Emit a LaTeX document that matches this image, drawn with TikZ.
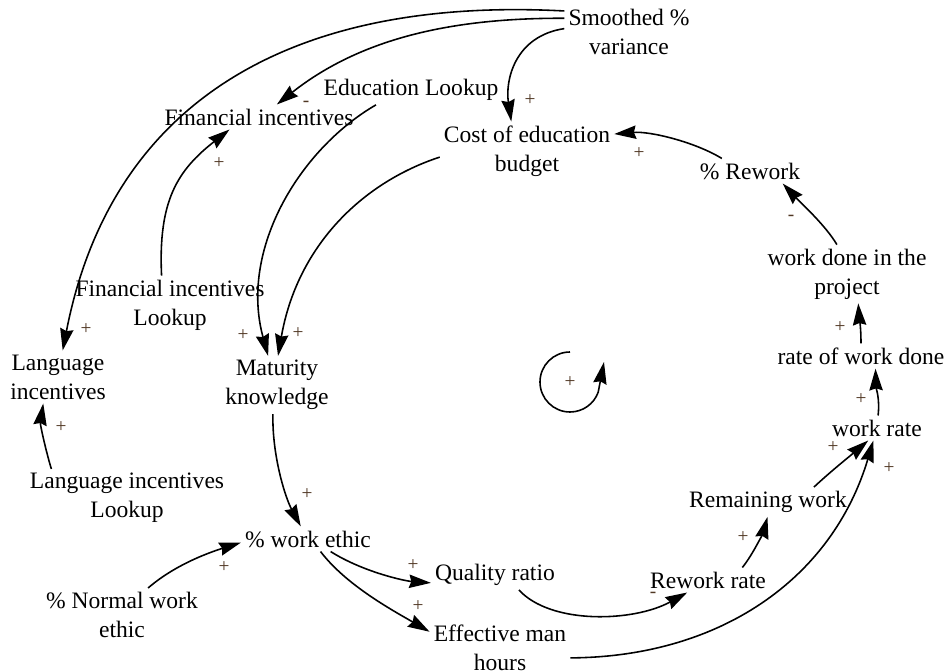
\documentclass[tikz,border=0pt]{standalone}
\usepackage{fontspec}
\setmainfont{Liberation Serif}
\usetikzlibrary{arrows.meta}
\definecolor{polcol}{RGB}{80,55,35}
\begin{document}
\begin{tikzpicture}[x=0.1mm,y=-0.1mm,
  var/.style={align=center,inner sep=1pt,font=\fontsize{6.7}{8.25}\selectfont},
  pol/.style={inner sep=0pt,text=polcol,font=\fontsize{5.5}{6}\selectfont},
  link/.style={line width=0.45pt,-{Stealth[length=6.2pt,width=3.8pt,inset=0.6pt]}}]
\useasboundingbox (0,0) rectangle (951,672);

% variables
\node[var] (smooth) at (629,32) {Smoothed \%\\variance};
\node[var] (edu) at (411,90) {Education Lookup};
\node[var] (fin) at (259,117) {Financial incentives};
\node[var] (cost) at (527,151) {Cost of education\\budget};
\node[var] (rework) at (750,171) {\% Rework};
\node[var] (wdone) at (847,274) {work done in the\\project};
\node[var] (rwd) at (861,356) {rate of work done};
\node[var] (wrate) at (877,428) {work rate};
\node[var] (remain) at (768,502) {Remaining work};
\node[var] (rrate) at (708,580) {Rework rate};
\node[var] (quality) at (495,575) {Quality ratio};
\node[var] (eff) at (500,648) {Effective man\\hours};
\node[var] (ethic) at (308,539) {\% work ethic};
\node[var] (normal) at (122,615) {\% Normal work\\ethic};
\node[var] (langlook) at (127,498) {Language incentives\\Lookup};
\node[var] (lang) at (58,377) {Language\\incentives};
\node[var] (mat) at (277,385) {Maturity\\knowledge};
\node[var] (finlook) at (170,305) {Financial incentives\\Lookup};

% links
\draw[link] (smooth.162) .. controls (284,-4) and (110,107) .. (lang.80);
\draw[link] (smooth.168) .. controls (463,18) and (366,34) .. (fin.35);
\draw[link] (smooth.177) .. controls (515,36) and (505,80) .. (cost.118);
\draw[link] (edu.203) .. controls (300,149) and (239,249) .. (mat.107);
\draw[link] (cost.184) .. controls (361,183) and (297,247) .. (mat.88);
\draw[link] (finlook.106) .. controls (158,200) and (178,170) .. (fin.203);
\draw[link] (langlook.159) .. controls (47,455) and (40,425) .. (lang.241);
\draw[link] (mat.262) .. controls (272,455) and (285,497) .. (ethic.120);
\draw[link] (normal.46) .. controls (177,563) and (214,551) .. (ethic.183);
\draw[link] (ethic.331) .. controls (363,572) and (405,581) .. (quality.187);
\draw[link] (ethic.315) .. controls (346,585) and (392,610) .. (eff.167);
\draw[link] (quality.328) .. controls (551,625) and (634,622) .. (rrate.211);
\draw[link] (rrate.20) .. controls (754,553) and (764,530) .. (remain.268);
\draw[link] (remain.18) .. controls (830,472) and (850,456) .. (wrate.235);
\draw[link] (eff.352) .. controls (720,657) and (832,579) .. (wrate.254);
\draw[link] (wrate.85) .. controls (880,398) and (876,388) .. (rwd.319);
\draw[link] (rwd.90) .. controls (861,325) and (859,315) .. (wdone.291);
\draw[link] (wdone.109) .. controls (826,226) and (802,204) .. (rework.339);
\draw[link] (rework.156) .. controls (695,142) and (650,131) .. (cost.11);

% polarities
\foreach \x/\y/\s [count=\i] in {86/329/+, 306/104/-, 530/100/+, 243/335/+, 298/333/+,
  219/163/+, 61/427/+, 307/494/+, 224/567/+, 413/565/+, 418/606/+, 653/595/-,
  743/537/+, 833/447/+, 889/468/+, 861/399/+, 840/327/+, 791/218/-, 639/153/+}
  \node[pol] (pol\i) at (\x,\y) {\s};

% loop
\node[pol] (loopsign) at (570,382) {+};
\draw[link] (570,352) arc[start angle=-90,end angle=-340,radius=30] -- (604,362);
\end{tikzpicture}
\end{document}
